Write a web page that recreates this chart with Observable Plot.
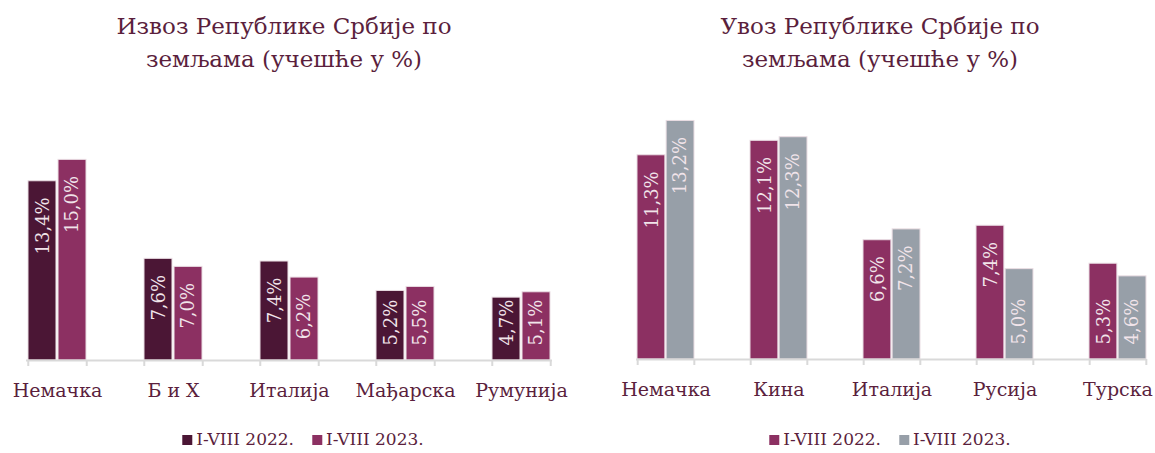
<!DOCTYPE html>
<html>
<head>
<meta charset="utf-8">
<script src="https://cdn.jsdelivr.net/npm/d3@7"></script>
<script src="https://cdn.jsdelivr.net/npm/@observablehq/plot@0.6"></script>
<style>
  html, body { margin: 0; padding: 0; background: #fff; }
  body { width: 1155px; height: 453px; position: relative; overflow: hidden; font-family: "DejaVu Serif", serif; color: #5b1f3d; }
  .title { position: absolute; top: 10px; text-align: center; font-size: 23px; line-height: 33px; color: #5b1f3d; }
  .chart { position: absolute; top: 100px; }
  .legend { position: absolute; top: 429px; display: flex; gap: 18px; font-size: 17px; color: #5b1f3d; white-space: nowrap; transform: translateX(-50%); }
  .legend span.sw { display: inline-block; width: 10px; height: 10px; margin-right: 4px; vertical-align: 0px; }
</style>
</head>
<body>
<script>
// ---- data ----
const seriesLabels = ["I-VIII 2022.", "I-VIII 2023."];

const exportTitle = ["Извоз Републике Србије по", "земљама (учешће у %)"];
const exportCountries = ["Немачка", "Б и Х", "Италија", "Мађарска", "Румунија"];
const export2022 = [13.4, 7.6, 7.4, 5.2, 4.7];
const export2023 = [15.0, 7.0, 6.2, 5.5, 5.1];

const importTitle = ["Увоз Републике Србије по", "земљама (учешће у %)"];
const importCountries = ["Немачка", "Кина", "Италија", "Русија", "Турска"];
const import2022 = [11.3, 12.1, 6.6, 7.4, 5.3];
const import2023 = [13.2, 12.3, 7.2, 5.0, 4.6];

const fmt = v => v.toFixed(1).replace(".", ",") + "%";

function makeChart(opts) {
  const {countries, a, b, colors, left, width, height, marginLeft, marginRight, marginTop, marginBottom, yMax, title, titleCenter, legendCenter} = opts;
  const rows = [];
  countries.forEach((c, i) => {
    rows.push({country: c, series: seriesLabels[0], value: a[i], side: 0});
    rows.push({country: c, series: seriesLabels[1], value: b[i], side: 1});
  });
  const bw = (width - marginLeft - marginRight) / (2 * countries.length - 1);
  const half = bw / 2;
  const A = rows.filter(d => d.side === 0);
  const B = rows.filter(d => d.side === 1);
  const big = d => d.value >= 6;
  const small = d => d.value < 6;
  const labelStyle = {fill: "#f1e4ea", fontSize: 18, rotate: -90, lineAnchor: "middle", fontFamily: "DejaVu Serif"};
  const frameH = height - marginTop - marginBottom;

  const plot = Plot.plot({
    width, height, marginLeft, marginRight, marginTop, marginBottom,
    style: {fontFamily: "DejaVu Serif", background: "transparent", overflow: "visible"},
    x: {type: "band", domain: countries, paddingInner: 0.5, paddingOuter: 0, label: null},
    y: {domain: [0, yMax], axis: null},
    marks: [
      Plot.barY(A, {x: "country", y: "value", fill: colors[0], stroke: "#eadde3", strokeWidth: 1, insetRight: half + 0.8}),
      Plot.barY(B, {x: "country", y: "value", fill: colors[1], stroke: "#eadde3", strokeWidth: 1, insetLeft: half + 0.8}),
      Plot.ruleY([0], {stroke: "#d9d9d9", strokeWidth: 2}),
      Plot.ruleX(countries, {x: d => d, dx: -bw / 2, stroke: "#d9d9d9", strokeWidth: 2, insetTop: frameH, insetBottom: -6}),
      Plot.ruleX(countries, {x: d => d, dx: bw / 2, stroke: "#d9d9d9", strokeWidth: 2, insetTop: frameH, insetBottom: -6}),
      Plot.text(A.filter(big), {x: "country", y: "value", text: d => fmt(d.value), dx: -half / 2, dy: 16, textAnchor: "end", ...labelStyle}),
      Plot.text(B.filter(big), {x: "country", y: "value", text: d => fmt(d.value), dx: half / 2, dy: 16, textAnchor: "end", ...labelStyle}),
      Plot.text(A.filter(small), {x: "country", y: () => 0, text: d => fmt(d.value), dx: -half / 2, dy: -15, textAnchor: "start", ...labelStyle}),
      Plot.text(B.filter(small), {x: "country", y: () => 0, text: d => fmt(d.value), dx: half / 2, dy: -15, textAnchor: "start", ...labelStyle}),
      Plot.axisX({tickSize: 0, tickPadding: 23, fontSize: 19, fill: "#5b1f3d", label: null})
    ]
  });
  const wrap = document.createElement("div");
  wrap.className = "chart";
  wrap.style.left = left + "px";
  wrap.appendChild(plot);
  document.body.appendChild(wrap);

  const t = document.createElement("div");
  t.className = "title";
  t.style.left = (titleCenter - 250) + "px";
  t.style.width = "500px";
  t.innerHTML = title.join("<br>");
  document.body.appendChild(t);

  const lg = document.createElement("div");
  lg.className = "legend";
  lg.style.left = legendCenter + "px";
  seriesLabels.forEach((s, i) => {
    const item = document.createElement("div");
    const sw = document.createElement("span");
    sw.className = "sw";
    sw.style.background = colors[i];
    item.appendChild(sw);
    item.appendChild(document.createTextNode(s));
    lg.appendChild(item);
  });
  document.body.appendChild(lg);
}

makeChart({
  countries: exportCountries, a: export2022, b: export2023,
  colors: ["#4b1635", "#8c3062"],
  left: 0, width: 577, height: 310,
  marginLeft: 26, marginRight: 25, marginTop: 46, marginBottom: 50, yMax: 16,
  title: exportTitle, titleCenter: 284, legendCenter: 303
});
makeChart({
  countries: importCountries, a: import2022, b: import2023,
  colors: ["#8c3062", "#979fa8"],
  left: 577, width: 578, height: 310,
  marginLeft: 59, marginRight: 9, marginTop: 6, marginBottom: 51, yMax: 14,
  title: importTitle, titleCenter: 880, legendCenter: 890
});
</script>
</body>
</html>
